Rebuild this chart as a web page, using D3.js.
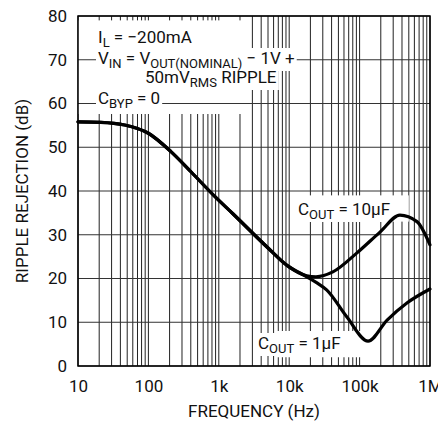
<!DOCTYPE html>
<html>
<head>
<meta charset="utf-8">
<script src="https://cdn.jsdelivr.net/npm/d3@7"></script>
<style>
  body { margin: 0; background: #fff; }
  svg { display: block; font-family: Roboto, "Liberation Sans", sans-serif; }
</style>
</head>
<body>
<div id="chart"></div>
<script>
// values
const xTicks = [10, 100, 1e3, 1e4, 1e5, 1e6];
const xTickLabels = ["10", "100", "1k", "10k", "100k", "1M"];
const yTicks = [0, 10, 20, 30, 40, 50, 60, 70, 80];

// frequency (Hz), ripple rejection (dB)
const cout10uF = [
  [10, 55.8], [21, 55.7], [46, 55.1], [100, 53.2], [209, 49], [402, 44.4],
  [883, 38.7], [1585, 34.8], [4840, 27.2], [9300, 23], [17800, 20.6],
  [24000, 20.4], [41700, 21.5], [91000, 25.8], [195000, 30.6], [374000, 34.5],
  [653000, 33], [1e6, 27.7]
];
const cout1uF = [
  [10, 55.8], [21, 55.7], [46, 55.1], [100, 53.2], [209, 49], [402, 44.4],
  [883, 38.7], [1585, 34.8], [4840, 27.2], [9300, 23], [17800, 20.4],
  [24800, 19], [34000, 17.4], [66000, 11.2], [132000, 5.7], [246000, 10.5],
  [470000, 14.4], [1e6, 17.6]
];

const width = 438, height = 423;
const margin = {top: 16, right: 8, bottom: 57, left: 78};

const svg = d3.select("#chart").append("svg")
    .attr("width", width)
    .attr("height", height);

const x = d3.scaleLog()
    .domain([10, 1e6])
    .range([margin.left, width - margin.right]);

const y = d3.scaleLinear()
    .domain([0, 80])
    .range([height - margin.bottom, margin.top]);

// every 1..9 multiple in each decade
const minorX = [];
for (let d = 10; d < 1e6; d *= 10) {
  for (let m = 1; m < 10; m++) minorX.push(d * m);
}
minorX.push(1e6);

// vertical grid
svg.append("g")
  .selectAll("line")
  .data(minorX)
  .join("line")
    .attr("x1", d => x(d)).attr("x2", d => x(d))
    .attr("y1", y(0)).attr("y2", y(80))
    .attr("stroke", "#222")
    .attr("stroke-width", 1);

// white boxes that hide the vertical grid behind the notes
const boxes = [
  {x0: 10, x1: 2550, y0: 79, y1: 57.6},
  {x0: 15500, x1: 500000, y0: 39, y1: 33},
  {x0: 6300, x1: 135000, y0: 8, y1: 2}
];
svg.append("g")
  .selectAll("rect")
  .data(boxes)
  .join("rect")
    .attr("x", d => x(d.x0))
    .attr("y", d => y(d.y0))
    .attr("width", d => x(d.x1) - x(d.x0))
    .attr("height", d => y(d.y1) - y(d.y0))
    .attr("fill", "#fff");

// horizontal grid
svg.append("g")
  .selectAll("line")
  .data(yTicks)
  .join("line")
    .attr("x1", x(10)).attr("x2", x(1e6))
    .attr("y1", d => y(d)).attr("y2", d => y(d))
    .attr("stroke", "#333")
    .attr("stroke-width", 1);

// frame
svg.append("rect")
    .attr("x", x(10)).attr("y", y(80))
    .attr("width", x(1e6) - x(10))
    .attr("height", y(0) - y(80))
    .attr("fill", "none")
    .attr("stroke", "#000")
    .attr("stroke-width", 1.5);

// axes (labels only)
const xAxis = d3.axisBottom(x)
    .tickValues(xTicks)
    .tickFormat((d, i) => xTickLabels[i])
    .tickSize(0)
    .tickPadding(14);
svg.append("g")
    .attr("transform", `translate(0,${y(0)})`)
    .call(xAxis)
    .call(g => g.select(".domain").remove())
    .call(g => g.selectAll("text").attr("font-size", 17).attr("fill", "#111")
      .attr("font-family", "Roboto"));

const yAxis = d3.axisLeft(y)
    .tickValues(yTicks)
    .tickSize(0)
    .tickPadding(11);
svg.append("g")
    .attr("transform", `translate(${x(10)},0)`)
    .call(yAxis)
    .call(g => g.select(".domain").remove())
    .call(g => g.selectAll("text").attr("font-size", 17).attr("fill", "#111")
      .attr("font-family", "Roboto"));

// axis titles
svg.append("text")
    .attr("x", (x(10) + x(1e6)) / 2)
    .attr("y", 417)
    .attr("text-anchor", "middle")
    .attr("font-size", 17)
    .attr("fill", "#111")
    .text("FREQUENCY (Hz)");

svg.append("text")
    .attr("transform", `translate(28,${(y(0) + y(80)) / 2}) rotate(-90)`)
    .attr("text-anchor", "middle")
    .attr("font-size", 17)
    .attr("fill", "#111")
    .text("RIPPLE REJECTION (dB)");

// notes: each part is [text, isSubscript]
const notes = [
  {x: 98, y: 43, parts: [["I", 0], ["L", 1], [" = \u2212200mA", 0]]},
  {x: 98, y: 64, parts: [["V", 0], ["IN", 1], [" = V", 0], ["OUT(NOMINAL)", 1], [" \u2212 1V +", 0]]},
  {x: 145, y: 83, parts: [["50mV", 0], ["RMS", 1], [" RIPPLE", 0]]},
  {x: 98, y: 104, parts: [["C", 0], ["BYP", 1], [" = 0", 0]]},
  {x: 298, y: 215, parts: [["C", 0], ["OUT", 1], [" = 10\u00b5F", 0]]},
  {x: 258, y: 349, parts: [["C", 0], ["OUT", 1], [" = 1\u00b5F", 0]]}
];

// backgrounds go in first so no line's rect covers another line's text
const bgG = svg.append("g");
const noteG = svg.append("g");
notes.forEach(n => {
  const t = noteG.append("text")
      .attr("x", n.x).attr("y", n.y)
      .attr("font-size", 17)
      .attr("fill", "#111")
      .attr("xml:space", "preserve");
  n.parts.forEach((p, i) => {
    const s = t.append("tspan")
        .attr("font-size", p[1] ? 13 : 17)
        .text(p[0]);
    if (p[1]) s.attr("dy", 4);
    else if (i > 0 && n.parts[i - 1][1]) s.attr("dy", -4);
  });
  const b = t.node().getBBox();
  bgG.append("rect")
    .attr("fill", "#fff")
    .attr("x", b.x - 2).attr("y", b.y)
    .attr("width", b.width + 4).attr("height", b.height);
});

// curves
const line = d3.line()
    .curve(d3.curveMonotoneX)
    .x(d => x(d[0]))
    .y(d => y(d[1]));

svg.append("g")
  .selectAll("path")
  .data([cout1uF, cout10uF])
  .join("path")
    .attr("d", d => line(d))
    .attr("fill", "none")
    .attr("stroke", "#000")
    .attr("stroke-width", 3.2)
    .attr("stroke-linejoin", "round")
    .attr("stroke-linecap", "round");
</script>
</body>
</html>
